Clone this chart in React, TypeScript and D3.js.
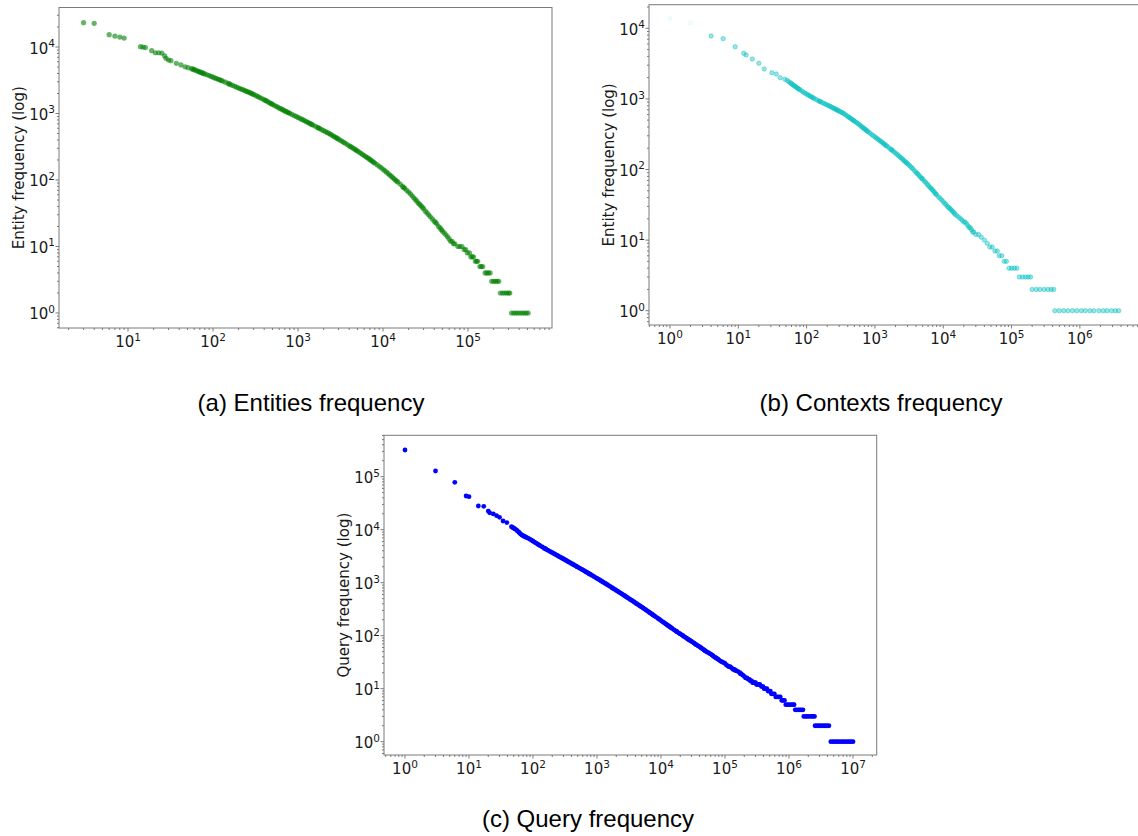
import * as d3 from "d3";

type Pt = [number, number];

// (a) entities: [rank, frequency]
const entityPoints: Pt[] = [
  [3, 23200], [4, 22700], [6, 15300], [7, 14600], [8, 14100], [9, 13600],
  [14, 10100], [15, 10000], [16, 9800], [19, 8800], [21, 8200], [23, 8200], [25, 8100],
  [27, 7330], [28, 6760], [30, 6380], [32, 6220], [37, 5690], [42, 5370], [47, 5030],
  [51, 4890], [56, 4720], [58, 4645], [60, 4570], [62, 4480], [65, 4390], [67, 4300],
  [70, 4220], [72, 4145], [75, 4070], [77, 4005], [80, 3940], [85, 3825], [90, 3715],
  [95, 3612], [100, 3515], [105, 3430], [110, 3350], [115, 3275], [120, 3205], [125, 3140],
  [130, 3075], [140, 2955], [150, 2840], [155, 2787], [160, 2735], [170, 2645], [180, 2560],
  [190, 2485], [200, 2415], [210, 2357], [220, 2300], [230, 2247], [240, 2195], [250, 2150],
  [260, 2105], [270, 2062], [280, 2020], [290, 1977], [300, 1935], [315, 1877], [330, 1820],
  [345, 1772], [360, 1725], [380, 1667], [400, 1610], [415, 1570], [430, 1530], [450, 1482],
  [470, 1435], [485, 1405], [500, 1375], [525, 1330], [550, 1285], [575, 1247], [600, 1210],
  [625, 1180], [650, 1150], [675, 1122], [700, 1095], [725, 1071], [750, 1047], [775, 1026],
  [800, 1005], [850, 968], [900, 933], [950, 903], [1000, 873], [1050, 847], [1100, 822],
  [1150, 800], [1200, 778], [1250, 758], [1300, 738], [1350, 720], [1400, 702], [1450, 686],
  [1500, 670], [1600, 643], [1700, 617], [1750, 605], [1800, 593], [1900, 572], [2000, 552],
  [2100, 535], [2200, 519], [2300, 504], [2400, 489], [2500, 474], [2600, 459], [2700, 446],
  [2800, 434], [2900, 422], [3000, 411], [3150, 396], [3300, 382], [3450, 369], [3600, 357],
  [3800, 342], [4000, 327], [4150, 318], [4300, 309], [4500, 298], [4700, 288], [4850, 280],
  [5000, 273], [5250, 262], [5500, 252], [5750, 242], [6000, 233], [6250, 225], [6500, 218],
  [6750, 211], [7000, 204], [7250, 197], [7500, 191], [7750, 185], [8000, 180], [8500, 170],
  [9000, 161], [9500, 153], [10000, 145], [10500, 138], [11000, 131], [11500, 125],
  [12000, 119], [12500, 114], [13000, 109], [13500, 104], [14000, 100], [14500, 96],
  [15000, 93], [16000, 86], [17000, 80], [17500, 77], [18000, 75], [19000, 70], [20000, 66],
  [21000, 62], [22000, 58], [23000, 54], [24000, 51], [25000, 48], [26000, 45], [27000, 43],
  [28000, 41], [29000, 39], [30000, 37], [31500, 34], [33000, 32], [34500, 30], [36000, 28],
  [38000, 26], [40000, 24], [41500, 23], [43000, 22], [45000, 20], [47000, 19], [48500, 18],
  [50000, 17], [52500, 16], [55000, 15], [57500, 14], [60000, 13], [62500, 12], [65000, 12],
  [67500, 11], [70000, 11], [76000, 10], [80000, 10], [85000, 10], [90000, 9], [94000, 9],
  [98000, 8], [104000, 8], [108000, 7], [112000, 7], [116000, 7], [122000, 6], [126000, 6],
  [130000, 6], [138000, 5], [143000, 5], [149000, 5], [159000, 4], [166000, 4], [174000, 4],
  [182000, 4], [190000, 3], [200000, 3], [210000, 3], [220000, 3], [230000, 3], [240000, 2],
  [255000, 2], [270000, 2], [285000, 2], [300000, 2], [310000, 2], [325000, 1], [345000, 1],
  [365000, 1], [385000, 1], [410000, 1], [435000, 1], [460000, 1], [485000, 1], [510000, 1],
];

// (b) contexts
const contextFaintPoints: Pt[] = [[1, 13900], [2, 12000]];
const contextPoints: Pt[] = [
  [4, 7780], [6, 7130], [9, 5480], [12, 4420], [13, 4190], [16, 3670], [20, 3190], [24, 2650],
  [31, 2350], [36, 2250], [41, 2000], [48, 1900], [52, 1820], [55, 1745], [58, 1690],
  [60, 1640], [62, 1595], [65, 1552], [67, 1515], [70, 1476], [72, 1440], [75, 1406],
  [77, 1375], [80, 1345], [85, 1292], [90, 1241], [95, 1205], [100, 1170], [105, 1139],
  [110, 1109], [115, 1083], [120, 1057], [125, 1033], [130, 1009], [140, 973], [150, 938],
  [155, 924], [160, 910], [170, 886], [180, 862], [190, 841], [200, 821], [210, 803],
  [220, 786], [230, 769], [240, 752], [250, 736], [260, 721], [270, 708], [280, 695],
  [290, 683], [300, 671], [315, 655], [330, 640], [345, 624], [360, 608], [380, 586],
  [400, 565], [415, 551], [430, 538], [450, 522], [470, 507], [485, 496], [500, 485],
  [525, 470], [550, 455], [575, 440], [600, 425], [625, 412], [650, 399], [675, 388],
  [700, 378], [725, 368], [750, 358], [775, 349], [800, 340], [850, 326], [900, 312],
  [950, 300], [1000, 289], [1050, 279], [1100, 270], [1150, 261], [1200, 253], [1250, 246],
  [1300, 239], [1350, 232], [1400, 225], [1450, 219], [1500, 214], [1600, 204], [1700, 194],
  [1750, 190], [1800, 186], [1900, 178], [2000, 171], [2100, 164], [2200, 158], [2300, 152],
  [2400, 147], [2500, 142], [2600, 137], [2700, 132], [2800, 128], [2900, 124], [3000, 121],
  [3150, 116], [3300, 111], [3450, 106], [3600, 102], [3800, 96], [4000, 91], [4150, 88],
  [4300, 85], [4500, 81], [4700, 77], [4850, 75], [5000, 73], [5250, 69], [5500, 66],
  [5750, 63], [6000, 60], [6250, 57], [6500, 55], [6750, 53], [7000, 51], [7250, 49],
  [7500, 47], [7750, 45], [8000, 44], [8500, 41], [9000, 39], [9500, 37], [10000, 35],
  [10500, 33], [11000, 32], [11500, 30], [12000, 29], [12500, 28], [13000, 27], [13500, 26],
  [14000, 25], [14500, 24], [15000, 23], [16000, 22], [17000, 21], [18000, 20], [19000, 19],
  [20000, 18], [21000, 18], [22000, 17], [23000, 16], [24000, 15], [25000, 15], [26000, 14],
  [27000, 13], [28000, 13], [30000, 12], [33000, 12], [36000, 11], [40000, 10], [44000, 9],
  [48000, 8], [52000, 8], [57000, 7], [62000, 7], [66000, 6], [72000, 6], [78000, 5],
  [84000, 5], [92000, 4], [100000, 4], [110000, 4], [120000, 4], [130000, 3], [145000, 3],
  [160000, 3], [175000, 3], [190000, 3], [200000, 2], [230000, 2], [260000, 2], [300000, 2],
  [340000, 2], [380000, 2], [415000, 2], [430000, 1], [500000, 1], [580000, 1], [670000, 1],
  [780000, 1], [900000, 1], [1050000, 1], [1200000, 1], [1400000, 1], [1600000, 1],
  [1900000, 1], [2200000, 1], [2500000, 1], [2900000, 1], [3300000, 1], [3700000, 1],
];

// (c) queries
const queryPoints: Pt[] = [
  [1, 319000], [3, 128000], [6, 78400], [9, 43200], [10, 42000], [14, 28000], [17, 27600],
  [20, 22500], [21, 20900], [24, 19800], [27, 18400], [30, 17100], [34, 14600], [39, 13600],
  [46, 11400], [48, 11000], [50, 10700], [52, 10350], [55, 9950], [57, 9450], [60, 9000],
  [62, 8570], [65, 8170], [67, 7920], [70, 7690], [72, 7530], [75, 7380], [77, 7230],
  [80, 7090], [85, 6830], [90, 6580], [95, 6320], [100, 6070], [105, 5850], [110, 5650],
  [115, 5460], [120, 5280], [125, 5120], [130, 4970], [140, 4710], [150, 4470], [155, 4370],
  [160, 4280], [170, 4110], [180, 3950], [190, 3810], [200, 3680], [210, 3560], [220, 3450],
  [230, 3350], [240, 3260], [250, 3170], [260, 3080], [270, 3010], [280, 2940], [290, 2870],
  [300, 2800], [315, 2710], [330, 2620], [345, 2540], [360, 2470], [380, 2380], [400, 2300],
  [415, 2240], [430, 2190], [450, 2120], [470, 2060], [485, 2010], [500, 1970], [525, 1910],
  [550, 1850], [575, 1790], [600, 1740], [625, 1690], [650, 1640], [675, 1600], [700, 1560],
  [725, 1520], [750, 1480], [775, 1447], [800, 1415], [850, 1355], [900, 1300], [950, 1250],
  [1000, 1205], [1050, 1163], [1100, 1125], [1150, 1089], [1200, 1055], [1250, 1024],
  [1300, 995], [1350, 967], [1400, 940], [1450, 915], [1500, 891], [1600, 850], [1700, 811],
  [1750, 793], [1800, 776], [1900, 745], [2000, 715], [2100, 690], [2200, 665], [2300, 643],
  [2400, 622], [2500, 603], [2600, 585], [2700, 568], [2800, 551], [2900, 536], [3000, 521],
  [3150, 502], [3300, 483], [3450, 467], [3600, 451], [3800, 432], [4000, 414], [4150, 402],
  [4300, 391], [4500, 377], [4700, 364], [4850, 355], [5000, 346], [5250, 333], [5500, 321],
  [5750, 309], [6000, 298], [6250, 288], [6500, 278], [6750, 269], [7000, 261], [7250, 254],
  [7500, 247], [7750, 240], [8000, 233], [8500, 222], [9000, 211], [9500, 202], [10000, 193],
  [10500, 185], [11000, 178], [11500, 171], [12000, 165], [12500, 159], [13000, 154],
  [13500, 149], [14000, 145], [14500, 140], [15000, 136], [16000, 129], [17000, 123],
  [17500, 120], [18000, 117], [19000, 112], [20000, 108], [21000, 104], [22000, 100],
  [23000, 96], [24000, 93], [25000, 90], [26000, 87], [27000, 84], [28000, 82], [29000, 80],
  [30000, 78], [31500, 75], [33000, 72], [34500, 69], [36000, 67], [38000, 64], [40000, 62],
  [41500, 60], [43000, 58], [45000, 56], [47000, 54], [48500, 52], [50000, 51], [52500, 49],
  [55000, 48], [57500, 46], [60000, 45], [62500, 43], [65000, 42], [67500, 40], [70000, 39],
  [72500, 38], [75000, 37], [77500, 36], [80000, 35], [85000, 33], [90000, 32], [95000, 31],
  [100000, 30], [105000, 28], [110000, 27], [115000, 26], [120000, 26], [125000, 25],
  [130000, 24], [135000, 23], [140000, 23], [145000, 22], [150000, 22], [160000, 21],
  [170000, 20], [175000, 19], [180000, 19], [190000, 18], [200000, 17], [210000, 16],
  [220000, 16], [230000, 15], [240000, 15], [250000, 14], [260000, 14], [270000, 13],
  [280000, 13], [290000, 13], [300000, 13], [310000, 12], [330000, 12], [350000, 12],
  [370000, 11], [390000, 11], [410000, 10], [430000, 10], [450000, 10], [470000, 9],
  [490000, 9], [510000, 9], [530000, 8], [560000, 8], [590000, 8], [620000, 7], [650000, 7],
  [690000, 7], [730000, 7], [770000, 6], [810000, 6], [850000, 6], [890000, 5], [950000, 5],
  [1010000, 5], [1080000, 5], [1150000, 5], [1200000, 5], [1250000, 4], [1320000, 4],
  [1400000, 4], [1480000, 4], [1560000, 4], [1650000, 4], [1700000, 3], [1800000, 3],
  [1920000, 3], [2050000, 3], [2200000, 3], [2350000, 3], [2500000, 3], [2550000, 2],
  [2750000, 2], [2950000, 2], [3150000, 2], [3400000, 2], [3650000, 2], [3900000, 2],
  [4200000, 2], [4500000, 1], [4850000, 1], [5200000, 1], [5600000, 1], [6000000, 1],
  [6500000, 1], [7000000, 1], [7500000, 1], [8100000, 1], [8700000, 1], [9300000, 1],
  [10000000, 1],
];

// tick exponents (labels are 10^k)
const entityXExp = [1, 2, 3, 4, 5];
const entityYExp = [0, 1, 2, 3, 4];
const contextXExp = [0, 1, 2, 3, 4, 5, 6];
const contextYExp = [0, 1, 2, 3, 4];
const queryXExp = [0, 1, 2, 3, 4, 5, 6, 7];
const queryYExp = [0, 1, 2, 3, 4, 5];

const captions = ["(a) Entities frequency", "(b) Contexts frequency", "(c) Query frequency"];

const TICK_FONT = "'DejaVu Sans', sans-serif";
const CAPTION_FONT = "'Liberation Sans', Arial, sans-serif";
const AXIS = "#7a7a7a";

function minorTicks(dom: [number, number]) {
  const out: number[] = [];
  const lo = Math.floor(Math.log10(dom[0]));
  const hi = Math.ceil(Math.log10(dom[1]));
  for (let k = lo; k <= hi; k++) {
    for (let m = 2; m <= 9; m++) {
      const v = m * 10 ** k;
      if (v >= dom[0] && v <= dom[1]) out.push(v);
    }
  }
  return out;
}

interface Box { left: number; right: number; top: number; bottom: number }

interface PanelProps {
  box: Box;
  xExpDom: [number, number];
  yExpDom: [number, number];
  points: Pt[];
  faint?: Pt[];
  xExp: number[];
  yExp: number[];
  yLabel: string;
  color: string;
  opacity: number;
  ring?: boolean;
  r: number;
}

function Panel(p: PanelProps) {
  const { box } = p;
  const xDom: [number, number] = [10 ** p.xExpDom[0], 10 ** p.xExpDom[1]];
  const yDom: [number, number] = [10 ** p.yExpDom[0], 10 ** p.yExpDom[1]];
  const x = d3.scaleLog().domain(xDom).range([box.left, box.right]);
  const y = d3.scaleLog().domain(yDom).range([box.bottom, box.top]);

  const dot = (d: Pt, i: number, op: number) => (
    <circle
      key={i}
      cx={x(d[0])}
      cy={y(d[1])}
      r={p.r}
      fill={p.color}
      fillOpacity={op}
      stroke={p.ring ? p.color : "none"}
      strokeOpacity={op}
      strokeWidth={p.ring ? 1 : 0}
    />
  );

  return (
    <g>
      {(p.faint ?? []).map((d, i) => dot(d, i, 0.05))}
      {p.points.map((d, i) => dot(d, i, p.opacity))}

      <rect
        x={box.left}
        y={box.top}
        width={box.right - box.left}
        height={box.bottom - box.top}
        fill="none"
        stroke={AXIS}
        strokeWidth={1}
      />

      {minorTicks(xDom).map((v) => (
        <line key={"xm" + v} x1={x(v)} x2={x(v)} y1={box.bottom} y2={box.bottom + 2} stroke={AXIS} />
      ))}
      {minorTicks(yDom).map((v) => (
        <line key={"ym" + v} x1={box.left - 2} x2={box.left} y1={y(v)} y2={y(v)} stroke={AXIS} />
      ))}

      {p.xExp.map((e) => (
        <g key={"xt" + e}>
          <line x1={x(10 ** e)} x2={x(10 ** e)} y1={box.bottom} y2={box.bottom + 3.5} stroke={AXIS} />
          <text
            x={x(10 ** e)}
            y={box.bottom + 19}
            textAnchor="middle"
            fontFamily={TICK_FONT}
            fontSize={15}
            fill="#1a1a1a"
          >
            10<tspan dy={-6.5} fontSize={10.5}>{e}</tspan>
          </text>
        </g>
      ))}
      {p.yExp.map((e) => (
        <g key={"yt" + e}>
          <line x1={box.left - 3.5} x2={box.left} y1={y(10 ** e)} y2={y(10 ** e)} stroke={AXIS} />
          <text
            x={box.left - 4}
            y={y(10 ** e) + 6.5}
            textAnchor="end"
            fontFamily={TICK_FONT}
            fontSize={15}
            fill="#1a1a1a"
          >
            10<tspan dy={-6.5} fontSize={10.5}>{e}</tspan>
          </text>
        </g>
      ))}

      <text
        transform={`translate(${box.left - 35},${(box.top + box.bottom) / 2}) rotate(-90)`}
        textAnchor="middle"
        fontFamily={TICK_FONT}
        fontSize={15}
        fill="#1a1a1a"
      >
        {p.yLabel}
      </text>
    </g>
  );
}

export default function App() {
  return (
    <div style={{ position: "absolute", left: 0, top: 0 }}>
      <svg width={1138} height={836} style={{ display: "block", background: "#fff" }}>
        <Panel
          box={{ left: 59, right: 552, top: 7.5, bottom: 328 }}
          xExpDom={[0.188, 5.988]}
          yExpDom={[-0.2256, 4.594]}
          points={entityPoints}
          xExp={entityXExp}
          yExp={entityYExp}
          yLabel="Entity frequency (log)"
          color="#008000"
          opacity={0.6}
          r={2.6}
        />
        <Panel
          box={{ left: 649, right: 1140, top: 4.7, bottom: 325 }}
          xExpDom={[-0.307, 6.88]}
          yExpDom={[-0.2025, 4.334]}
          points={contextPoints}
          faint={contextFaintPoints}
          xExp={contextXExp}
          yExp={contextYExp}
          yLabel="Entity frequency (log)"
          color="#00bfbf"
          opacity={0.4}
          ring
          r={2.2}
        />
        <Panel
          box={{ left: 384, right: 876.7, top: 435.3, bottom: 755 }}
          xExpDom={[-0.328, 7.37]}
          yExpDom={[-0.251, 5.781]}
          points={queryPoints}
          xExp={queryXExp}
          yExp={queryYExp}
          yLabel="Query frequency (log)"
          color="#0000ff"
          opacity={1}
          r={2.4}
        />

        <text x={311} y={411} textAnchor="middle" fontFamily={CAPTION_FONT} fontSize={24} fill="#000">
          {captions[0]}
        </text>
        <text x={881} y={411} textAnchor="middle" fontFamily={CAPTION_FONT} fontSize={24} fill="#000">
          {captions[1]}
        </text>
        <text x={588} y={827} textAnchor="middle" fontFamily={CAPTION_FONT} fontSize={24} fill="#000">
          {captions[2]}
        </text>
      </svg>
    </div>
  );
}
